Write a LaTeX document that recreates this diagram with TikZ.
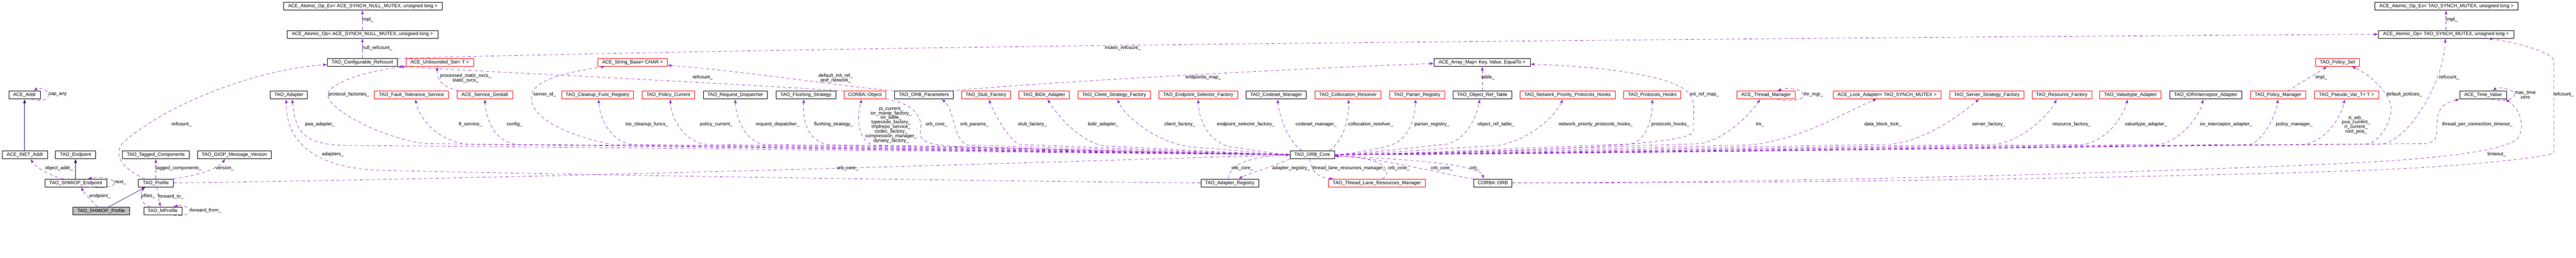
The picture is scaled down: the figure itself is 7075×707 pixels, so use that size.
\documentclass[tikz,border=0pt]{standalone}
\usepackage{fontspec}
\setmainfont{Liberation Sans}
\usetikzlibrary{arrows.meta}
\definecolor{usecol}{RGB}{154,50,205}
\definecolor{inhcol}{RGB}{25,25,112}
\definecolor{curgray}{RGB}{191,191,191}
\newcommand\nfont{\fontsize{13.2}{12.5}\selectfont}
\tikzset{
  box/.style={draw=black, line width=1pt, minimum height=21.4pt, inner sep=0pt, text height=9.6pt, text depth=2.6pt, font=\nfont},
  rbox/.style={box, draw=red},
  curbox/.style={box, fill=curgray},
  use/.style={draw=usecol, line width=1pt, dash pattern=on 9pt off 7pt, -{Latex[length=11pt,width=8pt]}},
  inh/.style={draw=inhcol, line width=1pt, -{Latex[length=11pt,width=8pt]}},
  lbl/.style={font=\nfont, inner sep=0pt, align=center},
}
\begin{document}
\begin{tikzpicture}[x=1pt,y=-1pt]
\fill[white] (0,0) rectangle (7075,707);
\useasboundingbox (0,0) rectangle (7075,707);
% ---------------- nodes ----------------
\node[box, minimum width=86.5pt] (addr) at (67.4,260.6) {ACE\_Addr};
\node[box, minimum width=124pt] (inet) at (68.5,424.4) {ACE\_INET\_Addr};
\node[box, minimum width=110.2pt] (endpt) at (207.4,424.4) {TAO\_Endpoint};
\node[box, minimum width=183.3pt] (tagged) at (428,424.4) {TAO\_Tagged\_Components};
\node[box, minimum width=202.3pt] (giop) at (643.5,424.4) {TAO\_GIOP\_Message\_Version};
\node[box, minimum width=169.6pt] (shmep) at (208,501.7) {TAO\_SHMIOP\_Endpoint};
\node[box, minimum width=95.3pt] (profile) at (428,501.7) {TAO\_Profile};
\node[curbox, minimum width=155pt] (shmprof) at (278,578.5) {TAO\_SHMIOP\_Profile};
\node[box, minimum width=104.8pt] (mprof) at (447,578.5) {TAO\_MProfile};
\node[box, minimum width=436.1pt] (atomExN) at (996.4,17) {ACE\_Atomic\_Op\_Ex< ACE\_SYNCH\_NULL\_MUTEX, unsigned long >};
\node[box, minimum width=414.4pt] (atomN) at (995.4,94.1) {ACE\_Atomic\_Op< ACE\_SYNCH\_NULL\_MUTEX, unsigned long >};
\node[box, minimum width=192.5pt] (confref) at (995.5,171.1) {TAO\_Configurable\_Refcount};
\node[rbox, minimum width=185.4pt] (unbset) at (1207.8,171.1) {ACE\_Unbounded\_Set< T >};
\node[box, minimum width=102.2pt] (adapter) at (793.4,260.6) {TAO\_Adapter};
\node[rbox, minimum width=203.5pt] (ftserv) at (1130,260.6) {TAO\_Fault\_Tolerance\_Service};
\node[rbox, minimum width=152.3pt] (gestalt) at (1331.6,260.6) {ACE\_Service\_Gestalt};
\node[rbox, minimum width=190.1pt] (strbase) at (1737.4,171.1) {ACE\_String\_Base< CHAR >};
\node[rbox, minimum width=197.1pt] (cleanup) at (1641,260.6) {TAO\_Cleanup\_Func\_Registry};
\node[rbox, minimum width=144.6pt] (polcur) at (1835.5,260.6) {TAO\_Policy\_Current};
\node[box, minimum width=176pt] (reqdisp) at (2019.5,260.6) {TAO\_Request\_Dispatcher};
\node[box, minimum width=164.5pt] (flush) at (2213.6,260.6) {TAO\_Flushing\_Strategy};
\node[rbox, minimum width=114.3pt] (corbaobj) at (2375.6,260.6) {CORBA::Object};
\node[box, minimum width=162.3pt] (orbparams) at (2537.6,260.6) {TAO\_ORB\_Parameters};
\node[rbox, minimum width=135.1pt] (stubfac) at (2708,260.6) {TAO\_Stub\_Factory};
\node[rbox, minimum width=138.5pt] (bidir) at (2867.5,260.6) {TAO\_BiDir\_Adapter};
\node[rbox, minimum width=199.4pt] (clientfac) at (3060,260.6) {TAO\_Client\_Strategy\_Factory};
\node[rbox, minimum width=217.4pt] (epselfac) at (3291,260.6) {TAO\_Endpoint\_Selector\_Factory};
\node[box, minimum width=165.2pt] (codeset) at (3504.9,260.6) {TAO\_Codeset\_Manager};
\node[box, minimum width=121.6pt] (core) at (3604,424.4) {TAO\_ORB\_Core};
\node[box, minimum width=158.4pt] (areg) at (3377.5,501.7) {TAO\_Adapter\_Registry};
\node[rbox, minimum width=181pt] (colloc) at (3702.1,260.6) {TAO\_Collocation\_Resolver};
\node[rbox, minimum width=151.6pt] (parser) at (3892.1,260.6) {TAO\_Parser\_Registry};
\node[box, minimum width=161pt] (objref) at (4070.9,260.6) {TAO\_Object\_Ref\_Table};
\node[box, minimum width=264.3pt] (arraymap) at (4070.5,171.1) {ACE\_Array\_Map< Key, Value, EqualTo >};
\node[rbox, minimum width=266.4pt] (tlrm) at (3781.5,501.7) {TAO\_Thread\_Lane\_Resources\_Manager};
\node[box, minimum width=105.1pt] (corbaorb) at (4100,501.7) {CORBA::ORB};
\node[rbox, minimum width=262.1pt] (nethooks) at (4305.4,260.6) {TAO\_Network\_Priority\_Protocols\_Hooks};
\node[rbox, minimum width=157.3pt] (prothooks) at (4538.1,260.6) {TAO\_Protocols\_Hooks};
\node[rbox, minimum width=160pt] (thrmgr) at (4850.5,260.6) {ACE\_Thread\_Manager};
\node[rbox, minimum width=296.1pt] (lockadp) at (5182.6,260.6) {ACE\_Lock\_Adapter< TAO\_SYNCH\_MUTEX >};
\node[rbox, minimum width=204.4pt] (servfac) at (5456.6,260.6) {TAO\_Server\_Strategy\_Factory};
\node[rbox, minimum width=164.1pt] (resfac) at (5662.6,260.6) {TAO\_Resource\_Factory};
\node[rbox, minimum width=168.3pt] (valtype) at (5851.4,260.6) {TAO\_Valuetype\_Adapter};
\node[box, minimum width=197.5pt] (iorint) at (6058,260.6) {TAO\_IORInterceptor\_Adapter};
\node[rbox, minimum width=152.3pt] (polman) at (6256.6,260.6) {TAO\_Policy\_Manager};
\node[rbox, minimum width=176.2pt] (pseudovar) at (6444.7,260.6) {TAO\_Pseudo\_Var\_T< T >};
\node[rbox, minimum width=119.8pt] (polset) at (6419.9,171.1) {TAO\_Policy\_Set};
\node[box, minimum width=393pt] (atomExT) at (6719,17) {ACE\_Atomic\_Op\_Ex< TAO\_SYNCH\_MUTEX, unsigned long >};
\node[box, minimum width=371.2pt] (atomT) at (6718,94.1) {ACE\_Atomic\_Op< TAO\_SYNCH\_MUTEX, unsigned long >};
\node[box, minimum width=128.2pt] (timeval) at (6819.6,260.6) {ACE\_Time\_Value};
% ---------------- inheritance ----------------
\draw[inh] (inet.north -| addr.south) -- (addr.south);
\draw[inh] (shmep.north -| endpt.south) -- (endpt.south);
\draw[inh] ([xshift=20.5pt]shmprof.north) -- ([xshift=-28pt]profile.south);
% ---------------- left part ----------------
\draw[use] ([xshift=19pt]addr.south) .. controls (120,282) and (136,268) .. (133,257) .. controls (130,244) and (105,240) .. ([xshift=25pt]addr.north);
\draw[use] ([xshift=-34pt]shmep.north) .. controls (130,480) and (95,455) .. ([xshift=15.5pt]inet.south);
\draw[use] ([xshift=37pt]shmep.south) .. controls (300,518) and (318,508) .. (314,500) .. controls (310,488) and (270,484) .. ([xshift=33pt]shmep.north);
\draw[use] ([xshift=-10pt]shmprof.north) .. controls (250,550) and (232,530) .. ([xshift=14pt]shmep.south);
\draw[use] (profile.north) -- (tagged.south);
\draw[use] ([xshift=-34pt]mprof.north) .. controls (385,560) and (383,530) .. ([xshift=-30pt]profile.south);
\draw[use] ([xshift=2.5pt]profile.south) .. controls (434,535) and (438,555) .. ([xshift=-6pt]mprof.north);
\draw[use] ([xshift=27.5pt]mprof.south) .. controls (500,594) and (522,588) .. (521,578) .. controls (520,566) and (495,562) .. ([xshift=29.5pt]mprof.north);
\draw[use] (profile.north east) .. controls (540,482) and (600,462) .. ([xshift=-24.8pt]giop.south);
\draw[use] (profile.east) .. controls (1500,488) and (2700,450) .. (core.west);
\draw[use] ([xshift=-30pt]profile.north) .. controls (330,460) and (310,420) .. (340,390) .. controls (450,290) and (700,190) .. ([yshift=-6pt]confref.west);
\draw[use] (confref.north) -- (atomN.south);
\draw[use] (atomN.north) -- (atomN.north |- atomExN.south);
\draw[use] (confref.north east) .. controls (1400,152) and (2200,133) .. (3540,119) .. controls (4500,109) and (5500,100) .. (atomT.west);
\draw[use] (corbaobj.north west) .. controls (2000,228) and (1400,200) .. (confref.south east);
\draw[use] (orbparams.north west) .. controls (2300,235) and (2000,190) .. ([yshift=-8pt]strbase.east);
\draw[use] ([xshift=73pt]orbparams.north) .. controls (2800,230) and (3500,190) .. ([yshift=-3pt]arraymap.west);
\draw[use] ([xshift=-71.6pt]gestalt.north) .. controls (1215,238) and (1200,220) .. ([xshift=-6.8pt]unbset.south);
\draw[use] (areg.west) .. controls (2500,494) and (1500,478) .. (1050,467) .. controls (880,463) and (785,400) .. ([xshift=-7pt]adapter.south);
\draw[use] (objref.north) -- (objref.north |- arraymap.south);
\draw[use] ([xshift=26pt]polman.north) -- ([xshift=-28pt]polset.south);
\draw[use] (atomT.north) -- (atomT.north |- atomExT.south);
% ---------------- ORB core, left bundle ----------------
\draw[use] (core.west) .. controls (2760,418) and (1730,404) .. (950,399) .. controls (830,396) and (812,360) .. ([xshift=9pt]adapter.south);
\draw[use] (core.west) .. controls (2830,418) and (1880,400) .. (1170,394) .. controls (1050,380) and (900,300) .. (900,260) .. controls (900,230) and (1000,195) .. ([xshift=1pt]unbset.south west);
\draw[use] (core.west) .. controls (2870,418) and (1960,401) .. (1290,396) .. controls (1200,390) and (1150,320) .. ([xshift=11pt]ftserv.south);
\draw[use] (core.west) .. controls (2900,418) and (2060,401) .. (1420,396) .. controls (1360,390) and (1335,330) .. (gestalt.south);
\draw[use] (core.west) .. controls (2980,418) and (2240,401) .. (1680,396) .. controls (1550,370) and (1450,320) .. (1460,260) .. controls (1470,210) and (1600,192) .. ([xshift=-75.4pt]strbase.south);
\draw[use] (core.west) .. controls (3000,418) and (2280,402) .. (1740,397) .. controls (1680,390) and (1648,330) .. ([xshift=3pt]cleanup.south);
\draw[use] (core.west) .. controls (3060,418) and (2420,402) .. (1940,396) .. controls (1880,388) and (1845,330) .. ([xshift=5.3pt]polcur.south);
\draw[use] (core.west) .. controls (3110,418) and (2530,402) .. (2100,396) .. controls (2050,390) and (2022,330) .. (reqdisp.south);
\draw[use] (core.west) .. controls (3160,418) and (2660,403) .. (2280,397) .. controls (2220,392) and (2203,330) .. ([xshift=-5.6pt]flush.south);
\draw[use] (core.west) .. controls (3200,418) and (2740,404) .. (2400,398) .. controls (2360,390) and (2350,330) .. ([xshift=-8.6pt]corbaobj.south);
\draw[use] (corbaobj.south east) .. controls (2520,285) and (2535,330) .. (2528,360) .. controls (2522,390) and (2560,398) .. (2620,401) .. controls (3000,412) and (3300,420) .. (core.west);
\draw[use] (core.west) .. controls (3280,418) and (2920,404) .. (2660,398) .. controls (2618,390) and (2622,300) .. ([xshift=48.2pt]orbparams.south);
\draw[use] (core.west) .. controls (3320,418) and (3020,404) .. (2800,396) .. controls (2770,385) and (2725,300) .. ([xshift=8pt]stubfac.south);
\draw[use] (core.west) .. controls (3390,420) and (3180,406) .. (3030,400) .. controls (2960,385) and (2900,310) .. ([xshift=9pt]bidir.south);
\draw[use] (core.west) .. controls (3460,421) and (3360,408) .. (3280,404) .. controls (3180,395) and (3090,320) .. ([xshift=8.6pt]clientfac.south);
\draw[use] (core.west) .. controls (3490,421) and (3420,407) .. (3380,403) .. controls (3320,390) and (3292,330) .. (epselfac.south);
\draw[use] ([xshift=-28pt]core.north) .. controls (3545,395) and (3515,330) .. ([xshift=3.8pt]codeset.south);
\draw[use] ([xshift=47pt]core.north) .. controls (3690,385) and (3704,330) .. ([xshift=1.7pt]colloc.south);
% ---------------- ORB core, bottom ----------------
\draw[use] (core.south west) .. controls (3490,460) and (3430,475) .. ([xshift=24pt]areg.north);
\draw[use] ([xshift=-3.5pt]areg.north) .. controls (3375,455) and (3420,430) .. (core.west);
\draw[use] ([xshift=-6pt]core.south) .. controls (3597,465) and (3620,488) .. ([xshift=-119pt]tlrm.north);
\draw[use] ([xshift=15pt]tlrm.north) .. controls (3830,470) and (3800,430) .. ([yshift=-4pt]core.east);
\draw[use] (corbaorb.north west) .. controls (3950,475) and (3800,435) .. ([yshift=-2pt]core.east);
\draw[use] ([yshift=-3pt]core.east) .. controls (3850,435) and (4060,450) .. ([xshift=-24.2pt]corbaorb.north);
% ---------------- ORB core, right bundle ----------------
\draw[use] (core.east) .. controls (3720,420) and (3790,408) .. (3820,398) .. controls (3870,380) and (3885,330) .. ([xshift=-3.8pt]parser.south);
\draw[use] (core.east) .. controls (3760,420) and (3900,402) .. (3975,395) .. controls (4030,380) and (4055,320) .. ([xshift=-6.6pt]objref.south);
\draw[use] (core.east) .. controls (3800,421) and (3980,405) .. (4110,400) .. controls (4200,385) and (4270,320) .. ([xshift=-12.8pt]nethooks.south);
\draw[use] (core.east) .. controls (3910,421) and (4240,402) .. (4480,395) .. controls (4520,385) and (4538,330) .. (prothooks.south);
\draw[use] (core.east) .. controls (4000,419) and (4652,405) .. (4651,360) .. controls (4650,300) and (4660,270) .. (4630,248) .. controls (4570,200) and (4350,180) .. ([yshift=-5pt]arraymap.east);
\draw[use] (core.east) .. controls (3960,421) and (4400,402) .. (4670,394) .. controls (4740,380) and (4800,320) .. ([xshift=-15.7pt]thrmgr.south);
\draw[use] ([xshift=30.2pt]thrmgr.south) .. controls (4920,282) and (4958,272) .. (4953,260) .. controls (4950,245) and (4910,238) .. ([xshift=30.2pt]thrmgr.north);
\draw[use] (core.east) .. controls (4000,421) and (4500,404) .. (4800,398) .. controls (4950,385) and (5080,300) .. ([xshift=-28.2pt]lockadp.south);
\draw[use] (core.east) .. controls (4120,421) and (4740,402) .. (5190,396) .. controls (5300,385) and (5400,300) .. ([xshift=-20.3pt]servfac.south);
\draw[use] (core.east) .. controls (4210,421) and (4940,402) .. (5480,396) .. controls (5560,385) and (5630,310) .. ([xshift=-13.9pt]resfac.south);
\draw[use] (core.east) .. controls (4280,421) and (5110,402) .. (5720,396) .. controls (5790,385) and (5830,320) .. ([xshift=-7.5pt]valtype.south);
\draw[use] (core.east) .. controls (4350,421) and (5250,402) .. (5930,396) .. controls (5990,385) and (6040,320) .. ([xshift=-7pt]iorint.south);
\draw[use] (core.east) .. controls (4420,421) and (5420,402) .. (6180,396) .. controls (6215,385) and (6250,320) .. (polman.south);
\draw[use] (core.east) .. controls (4470,421) and (5520,402) .. (6330,396) .. controls (6390,385) and (6430,320) .. ([xshift=-5pt]pseudovar.south);
\draw[use] (core.east) .. controls (4520,421) and (5650,401) .. (6500,395) .. controls (6540,390) and (6575,320) .. (6566,285) .. controls (6550,240) and (6500,200) .. ([xshift=38.8pt]polset.south);
\draw[use] (core.east) .. controls (4540,421) and (5680,401) .. (6540,395) .. controls (6620,385) and (6712,220) .. ([xshift=-2pt]atomT.south);
\draw[use] (core.east) .. controls (4580,421) and (5780,400) .. (6660,394) .. controls (6690,392) and (6693,375) .. (6693,350) .. controls (6693,300) and (6705,285) .. (timeval.south west);
\draw[use] ([xshift=22.8pt]timeval.south) .. controls (6880,282) and (6910,270) .. (6906,258) .. controls (6902,242) and (6860,238) .. ([xshift=26.5pt]timeval.north);
% ---------------- CORBA::ORB long edges ----------------
\draw[use] (corbaorb.east) .. controls (5000,500) and (6000,470) .. (6500,445) .. controls (6750,430) and (6880,410) .. (6915,380) .. controls (6940,340) and (6915,295) .. ([xshift=61pt]timeval.south);
\draw[use] (corbaorb.east) .. controls (5000,503) and (6000,485) .. (6500,467) .. controls (6800,455) and (6990,430) .. (7014,420) -- (7014,165) .. controls (7005,140) and (6900,115) .. ([xshift=114.8pt]atomT.south);
% ---------------- labels ----------------
\node[lbl] (l1) at (158.5,259.5) {sap\_any};
\node[lbl] (l2) at (162,461) {object\_addr\_};
\node[lbl] (l3) at (330,500) {next\_};
\node[lbl] (l4) at (274.8,538.5) {endpoint\_};
\node[lbl] (l5) at (490.2,461) {tagged\_components\_};
\node[lbl] (l6) at (407,538.5) {pfiles\_};
\node[lbl] (l7) at (469,538.5) {forward\_to\_};
\node[lbl] (l8) at (564.8,576.7) {forward\_from\_};
\node[lbl] (l9) at (617.3,461) {version\_};
\node[lbl] (l10) at (2327.7,461) {orb\_core\_};
\node[lbl] (l11) at (498.5,341) {refcount\_};
\node[lbl] (l12) at (1036,131) {null\_refcount\_};
\node[lbl] (l13) at (1010,54.3) {impl\_};
\node[lbl] (l14) at (3083.6,131) {mutex\_refcount\_};
\node[lbl] (l15) at (1930,213) {refcount\_};
\node[lbl] (l16) at (2295.2,214.7) {default\_init\_ref\_\\pref\_network\_};
\node[lbl] (l17) at (3304.7,213) {endpoints\_map\_};
\node[lbl] (l18) at (1278.5,214.7) {processed\_static\_svcs\_\\static\_svcs\_};
\node[lbl] (l19) at (914,423) {adapters\_};
\node[lbl] (l20) at (4086.8,213) {table\_};
\node[lbl] (l21) at (6375.6,213) {impl\_};
\node[lbl] (l22) at (6733.7,54.3) {impl\_};
\node[lbl] (l23) at (878.9,341.4) {poa\_adapter\_};
\node[lbl] (l24) at (958,259.5) {protocol\_factories\_};
\node[lbl] (l25) at (1292,341) {ft\_service\_};
\node[lbl] (l26) at (1413,341) {config\_};
\node[lbl] (l27) at (1496,259.5) {server\_id\_};
\node[lbl] (l28) at (1776.4,341) {tss\_cleanup\_funcs\_};
\node[lbl] (l29) at (1967.5,341) {policy\_current\_};
\node[lbl] (l30) at (2135.4,341) {request\_dispatcher\_};
\node[lbl] (l31) at (2289.3,341) {flushing\_strategy\_};
\node[lbl] (l32) at (2447.3,342) {pi\_current\_\\ior\_manip\_factory\_\\ior\_table\_\\typecode\_factory\_\\implrepo\_service\_\\codec\_factory\_\\compression\_manager\_\\dynany\_factory\_};
\node[lbl] (l33) at (2571.8,341) {orb\_core\_};
\node[lbl] (l34) at (2676.4,341) {orb\_params\_};
\node[lbl] (l35) at (2835.4,341) {stub\_factory\_};
\node[lbl] (l36) at (3030.2,341) {bidir\_adapter\_};
\node[lbl] (l37) at (3240.3,341) {client\_factory\_};
\node[lbl] (l38) at (3421.7,341) {endpoint\_selector\_factory\_};
\node[lbl] (l39) at (3614.9,341) {codeset\_manager\_};
\node[lbl] (l40) at (3764.3,341) {collocation\_resolver\_};
\node[lbl] (l41) at (3932.8,341) {parser\_registry\_};
\node[lbl] (l42) at (4108.6,341) {object\_ref\_table\_};
\node[lbl] (l43) at (4382.7,341) {network\_priority\_protocols\_hooks\_};
\node[lbl] (l44) at (4587.7,341) {protocols\_hooks\_};
\node[lbl] (l45) at (4681,259.5) {init\_ref\_map\_};
\node[lbl] (l46) at (4833.5,341) {tm\_};
\node[lbl] (l47) at (4980.5,259.5) {thr\_mgr\_};
\node[lbl] (l48) at (5171.5,341) {data\_block\_lock\_};
\node[lbl] (l49) at (5462.2,341) {server\_factory\_};
\node[lbl] (l50) at (5690,341) {resource\_factory\_};
\node[lbl] (l51) at (5893.8,341) {valuetype\_adapter\_};
\node[lbl] (l52) at (6114,341) {ior\_interceptor\_adapter\_};
\node[lbl] (l53) at (6301.3,341) {policy\_manager\_};
\node[lbl] (l54) at (6471,342.4) {rt\_orb\_\\poa\_current\_\\rt\_current\_\\root\_poa\_};
\node[lbl] (l55) at (6603,259.5) {default\_policies\_};
\node[lbl] (l56) at (6726.5,213) {refcount\_};
\node[lbl] (l57) at (6804,341) {thread\_per\_connection\_timeout\_};
\node[lbl] (l58) at (6935.5,259.7) {max\_time\\zero};
\node[lbl] (l59) at (6857,423) {timeout\_};
\node[lbl] (l60) at (7041,259.5) {refcount\_};
\node[lbl] (l61) at (3959.3,461) {orb\_core\_};
\node[lbl] (l62) at (4050,461) {orb\_};
\node[lbl] (l63) at (3705,461) {thread\_lane\_resources\_manager\_};
\node[lbl] (l64) at (3841.8,461) {orb\_core\_};
\node[lbl] (l65) at (3546,461) {adapter\_registry\_};
\node[lbl] (l66) at (3412,461) {orb\_core\_};
\end{tikzpicture}
\end{document}
